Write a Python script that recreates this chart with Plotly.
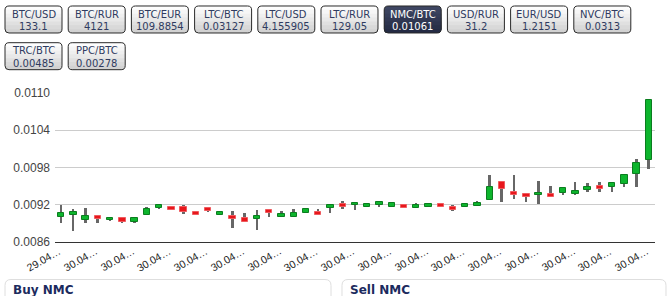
import plotly.graph_objects as go

# ---------------- data ----------------
pairs = ["BTC/USD", "BTC/RUR", "BTC/EUR", "LTC/BTC", "LTC/USD", "LTC/RUR",
         "NMC/BTC", "USD/RUR", "EUR/USD", "NVC/BTC", "TRC/BTC", "PPC/BTC"]
prices = ["133.1", "4121", "109.8854", "0.03127", "4.155905", "129.05",
          "0.01061", "31.2", "1.2151", "0.0313", "0.00485", "0.00278"]
selected_pair = "NMC/BTC"

opens = [.00901, .00904, .00896, .00902, .00895, .00899, .00892, .00904, .00914, .00917,
         .00917, .00909, .00914, .00904, .00902, .00898, .00897, .00912, .00901, .00901,
         .00907, .00908, .00914, .00922, .00919, .00917, .00920, .00917, .00919, .00914,
         .00917, .00922, .00916, .00917, .00918, .00927, .00957, .00941, .00937, .00935,
         .00938, .00939, .00938, .00943, .00950, .00949, .00954, .00970, .00992]
highs = [.00920, .00913, .00914, .00904, .00900, .00899, .00898, .00916, .00920, .00917,
         .00920, .00909, .00914, .00909, .00910, .00907, .00912, .00913, .00910, .00913,
         .00913, .00913, .00922, .00926, .00923, .00923, .00924, .00923, .00921, .00923,
         .00923, .00923, .00920, .00923, .00926, .00968, .00957, .00968, .00939, .00959,
         .00950, .00947, .00957, .00955, .00957, .00955, .00968, .00994, .01089]
lows = [.00891, .00878, .00891, .00891, .00894, .00891, .00891, .00904, .00913, .00912,
        .00905, .00904, .00909, .00904, .00883, .00893, .00879, .00900, .00901, .00901,
        .00907, .00904, .00907, .00913, .00912, .00917, .00917, .00917, .00914, .00914,
        .00917, .00917, .00910, .00917, .00918, .00927, .00925, .00930, .00925, .00922,
        .00933, .00935, .00936, .00940, .00940, .00940, .00949, .00949, .00978]
closes = [.00907, .00909, .00902, .00897, .00898, .00892, .00898, .00913, .00919, .00912,
          .00909, .00904, .00910, .00909, .00897, .00893, .00902, .00907, .00905, .00906,
          .00913, .00904, .00920, .00917, .00923, .00921, .00924, .00923, .00914, .00919,
          .00922, .00917, .00912, .00922, .00923, .00948, .00945, .00936, .00932, .00939,
          .00933, .00947, .00942, .00949, .00945, .00955, .00968, .00987, .01089]

x_tick_labels = ["29.04…"] + ["30.04…"] * 16
y_ticks = [0.0086, 0.0092, 0.0098, 0.0104, 0.0110]
panel_titles = ["Buy NMC", "Sell NMC"]

# ---------------- layout helpers ----------------
W, H = 670, 296
ML, MR, MT, MB = 55, 15, 93, 54
PW, PH = W - ML - MR, H - MT - MB


def px(x):
    return (x - ML) / PW


def py(y):
    return (H - MB - y) / PH


def rr_path(x0, y0, x1, y1, r, rt=True, rb=True):
    a = r if rt else 0
    b = r if rb else 0
    pts = []
    pts.append("M %f,%f" % (px(x0 + a), py(y0)))
    pts.append("L %f,%f" % (px(x1 - a), py(y0)))
    if a:
        pts.append("Q %f,%f %f,%f" % (px(x1), py(y0), px(x1), py(y0 + a)))
    pts.append("L %f,%f" % (px(x1), py(y1 - b)))
    if b:
        pts.append("Q %f,%f %f,%f" % (px(x1), py(y1), px(x1 - b), py(y1)))
    pts.append("L %f,%f" % (px(x0 + b), py(y1)))
    if b:
        pts.append("Q %f,%f %f,%f" % (px(x0), py(y1), px(x0), py(y1 - b)))
    pts.append("L %f,%f" % (px(x0), py(y0 + a)))
    if a:
        pts.append("Q %f,%f %f,%f" % (px(x0), py(y0), px(x0 + a), py(y0)))
    pts.append("Z")
    return " ".join(pts)


def lerp_col(c0, c1, t):
    return "rgb(%d,%d,%d)" % tuple(round(c0[i] + (c1[i] - c0[i]) * t) for i in range(3))


# ---------------- traces ----------------
n = len(opens)
idx = list(range(n))
inc = [i for i in idx if closes[i] >= opens[i]]
dec = [i for i in idx if closes[i] < opens[i]]

fig = go.Figure()
fig.add_trace(go.Bar(
    x=idx, base=lows, y=[h - l for h, l in zip(highs, lows)], width=0.16,
    marker=dict(color="#676767", line=dict(width=0)), hoverinfo="skip"))
fig.add_trace(go.Bar(
    x=inc, base=[opens[i] for i in inc], y=[closes[i] - opens[i] for i in inc], width=0.52,
    marker=dict(color="#0db52d", line=dict(color="#0b7d1f", width=1))))
fig.add_trace(go.Bar(
    x=dec, base=[closes[i] for i in dec], y=[opens[i] - closes[i] for i in dec], width=0.52,
    marker=dict(color="#e8171c", line=dict(color="#ef5a5e", width=1))))

shapes = []
annotations = []

# ---------------- x tick labels (slanted) ----------------
tick_pos = list(range(0, n, 3))
for xv, lab in zip(tick_pos, x_tick_labels):
    annotations.append(dict(xref="x", yref="paper", x=xv, y=0, text=lab,
                            showarrow=False, textangle=-30,
                            xanchor="right", yanchor="top", xshift=3, yshift=-1,
                            borderpad=0,
                            font=dict(family="Liberation Sans", size=10.5, color="#222222")))

# ---------------- pair buttons ----------------
for k, (name, price) in enumerate(zip(pairs, prices)):
    row, col = divmod(k, 10)
    x0 = 5 + col * 63.2
    x1 = x0 + 57
    y0 = 6 + row * 36.7
    y1 = y0 + 27
    sel = (name == selected_pair)
    if sel:
        ctop, cbot = (62, 70, 98), (36, 43, 68)
        tcol = "#ffffff"
    else:
        ctop, cbot = (253, 253, 253), (210, 210, 210)
        tcol = "#2f3b60"
    steps = 7
    for s in range(steps):
        ys = y0 + s * (y1 - y0) / steps
        shapes.append(dict(type="path", xref="paper", yref="paper",
                           path=rr_path(x0, ys, x1, y1, 4, rt=(s == 0), rb=True),
                           fillcolor=lerp_col(ctop, cbot, s / (steps - 1)),
                           line=dict(width=0), layer="above"))
    shapes.append(dict(type="path", xref="paper", yref="paper",
                       path=rr_path(x0, y0, x1, y1, 4),
                       fillcolor="rgba(0,0,0,0)",
                       line=dict(color="#2a2a2a", width=1), layer="above"))
    cx = (x0 + x1) / 2
    annotations.append(dict(xref="paper", yref="paper", x=px(cx), y=py(y0 + 8.3),
                            text=name, showarrow=False, xanchor="center", yanchor="middle",
                            font=dict(family="DejaVu Sans", size=10, color=tcol)))
    annotations.append(dict(xref="paper", yref="paper", x=px(cx), y=py(y0 + 20.3),
                            text=price, showarrow=False, xanchor="center", yanchor="middle",
                            font=dict(family="DejaVu Sans", size=10, color=tcol)))

# ---------------- bottom panels ----------------
for (x0, x1), title in zip([(5, 331), (342, 666)], panel_titles):
    shapes.append(dict(type="path", xref="paper", yref="paper",
                       path=rr_path(x0, 279.5, x1, 340, 6),
                       fillcolor="#ffffff", line=dict(color="#dedede", width=1), layer="above"))
    annotations.append(dict(xref="paper", yref="paper", x=px(x0 + 6), y=py(290),
                            text="<b>%s</b>" % title, showarrow=False,
                            xanchor="left", yanchor="middle",
                            font=dict(family="DejaVu Sans", size=12, color="#1c2b5e")))

fig.update_layout(
    width=W, height=H,
    margin=dict(l=ML, r=MR, t=MT, b=MB, pad=0),
    paper_bgcolor="#ffffff", plot_bgcolor="#ffffff",
    barmode="overlay", showlegend=False, bargap=0,
    shapes=shapes, annotations=annotations,
    xaxis=dict(range=[-0.5, n - 0.5], tickmode="array", tickvals=tick_pos,
               showticklabels=False, showgrid=False, zeroline=False,
               showline=True, linecolor="#333333", linewidth=1, ticks="",
               fixedrange=True),
    yaxis=dict(range=[y_ticks[0], y_ticks[-1]], tickmode="array", tickvals=y_ticks,
               tickformat=".4f", showgrid=True, gridcolor="#cccccc", gridwidth=1,
               zeroline=False, showline=False, ticks="", ticklabelstandoff=4,
               tickfont=dict(family="Liberation Sans", size=12, color="#444444"),
               fixedrange=True),
)

fig.write_html("out.html", config={"displayModeBar": False})
